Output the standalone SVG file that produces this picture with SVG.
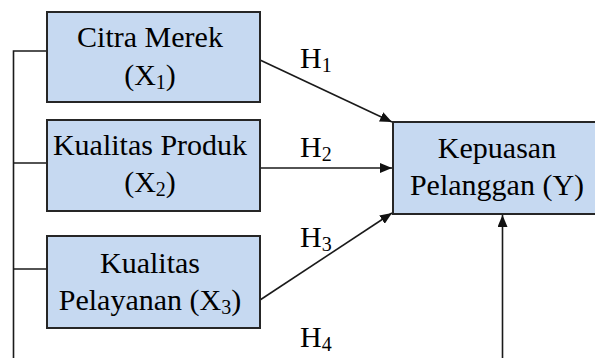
<svg xmlns="http://www.w3.org/2000/svg" width="595" height="358" viewBox="0 0 595 358">
  <style>
    .box { fill: #c6d9f1; stroke: #262626; stroke-width: 2; }
    .t { font-size: 30px; fill: #000; text-anchor: middle; }
    .h { font-size: 30px; fill: #000; }
    .sub { font-size: 20px; }
    .ln { stroke: #1a1a1a; stroke-width: 1.6; fill: none; }
  </style>
  <defs>
    <marker id="arr" markerUnits="userSpaceOnUse" markerWidth="13" markerHeight="10" refX="12" refY="5" orient="auto">
      <path d="M0,0 L12,5 L0,10 z" fill="#111"/>
    </marker>
  </defs>
  <rect width="595" height="358" fill="#ffffff"/>

  <g id="connectors">
    <polyline class="ln" points="47,51 13.5,51 13.5,360"/>
    <line class="ln" x1="13.5" y1="163" x2="47" y2="163"/>
    <line class="ln" x1="13.5" y1="269" x2="47" y2="269"/>
    <line class="ln" x1="260" y1="60" x2="392" y2="122" marker-end="url(#arr)"/>
    <line class="ln" x1="260" y1="168" x2="392" y2="168" marker-end="url(#arr)"/>
    <line class="ln" x1="260" y1="300" x2="392" y2="213" marker-end="url(#arr)"/>
    <line class="ln" x1="502.5" y1="360" x2="502.5" y2="215" marker-end="url(#arr)"/>
    <g font-family="Liberation Serif, serif">
      <text class="h" x="300" y="68">H<tspan class="sub" dy="4">1</tspan></text>
      <text class="h" x="300" y="157">H<tspan class="sub" dy="4">2</tspan></text>
      <text class="h" x="300" y="247">H<tspan class="sub" dy="4">3</tspan></text>
      <text class="h" x="300" y="347">H<tspan class="sub" dy="4">4</tspan></text>
    </g>
  </g>

  <g id="x1" font-family="Liberation Serif, serif">
    <rect class="box" x="47" y="12" width="213" height="90"/>
    <text class="t" x="150" y="47">Citra Merek</text>
    <text class="t" x="150" y="85">(X<tspan class="sub" dy="4">1</tspan><tspan dy="-4">)</tspan></text>
  </g>

  <g id="x2" font-family="Liberation Serif, serif">
    <rect class="box" x="47" y="120" width="213" height="91"/>
    <text class="t" x="150" y="155">Kualitas Produk</text>
    <text class="t" x="150" y="192">(X<tspan class="sub" dy="4">2</tspan><tspan dy="-4">)</tspan></text>
  </g>

  <g id="x3" font-family="Liberation Serif, serif">
    <rect class="box" x="47" y="236" width="213" height="92"/>
    <text class="t" x="150" y="273">Kualitas</text>
    <text class="t" x="150" y="310">Pelayanan (X<tspan class="sub" dy="4">3</tspan><tspan dy="-4">)</tspan></text>
  </g>

  <g id="y" font-family="Liberation Serif, serif">
    <rect class="box" x="393" y="122" width="210" height="92"/>
    <text class="t" x="497" y="158">Kepuasan</text>
    <text class="t" x="497" y="195">Pelanggan (Y)</text>
  </g>
</svg>
